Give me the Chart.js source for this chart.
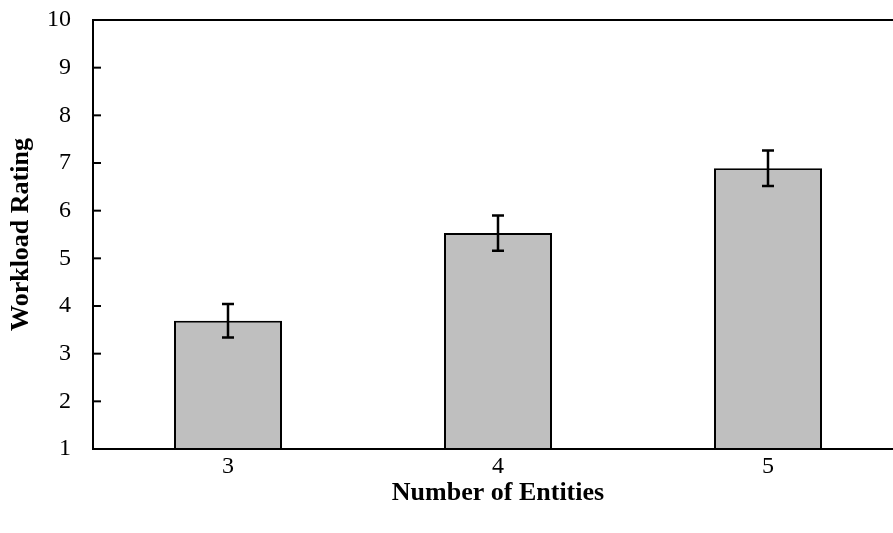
<!DOCTYPE html>
<html>
<head>
<meta charset="utf-8">
<script src="https://cdn.jsdelivr.net/npm/chart.js@4"></script>
<style>
  html, body { margin: 0; padding: 0; background: #fff; overflow: hidden; }
  #wrap { width: 910px; height: 533px; }
</style>
</head>
<body>
<div id="wrap"><canvas id="workloadChart" width="910" height="533"></canvas></div>
<script>
const entities = ['3', '4', '5'];
const workload = [3.69, 5.53, 6.89];
const workloadErr = [0.35, 0.37, 0.37];
const yTicks = [1, 2, 3, 4, 5, 6, 7, 8, 9, 10];

// frame, inward y ticks and error bars
const extras = {
  id: 'extras',
  afterDatasetsDraw(chart) {
    const ctx = chart.ctx;
    const area = chart.chartArea;
    const x = chart.scales.x;
    const y = chart.scales.y;
    ctx.save();
    ctx.strokeStyle = '#000';

    // error bars
    ctx.lineWidth = 2.5;
    workload.forEach(function (v, i) {
      const px = x.getPixelForValue(i);
      const top = y.getPixelForValue(v + workloadErr[i]);
      const bot = y.getPixelForValue(v - workloadErr[i]);
      ctx.beginPath();
      ctx.moveTo(px, top); ctx.lineTo(px, bot);
      ctx.moveTo(px - 6, top); ctx.lineTo(px + 6, top);
      ctx.moveTo(px - 6, bot); ctx.lineTo(px + 6, bot);
      ctx.stroke();
    });

    // frame
    ctx.lineWidth = 2;
    ctx.strokeRect(area.left, area.top, area.right - area.left, area.bottom - area.top);

    // tick marks pointing inward
    yTicks.forEach(function (t) {
      const py = y.getPixelForValue(t);
      ctx.beginPath();
      ctx.moveTo(area.left, py);
      ctx.lineTo(area.left + 8, py);
      ctx.stroke();
    });
    ctx.restore();
  }
};

new Chart(document.getElementById('workloadChart').getContext('2d'), {
  type: 'bar',
  data: {
    labels: entities,
    datasets: [{
      data: workload,
      backgroundColor: '#BFBFBF',
      borderColor: '#000',
      borderWidth: 2,
      categoryPercentage: 1,
      barPercentage: 0.4
    }]
  },
  options: {
    responsive: false,
    animation: false,
    layout: { padding: { top: 20, right: 7, left: 0, bottom: 0 } },
    scales: {
      x: {
        grid: { display: false, drawTicks: false },
        border: { display: false },
        ticks: {
          color: '#000',
          padding: 3,
          font: { family: 'Liberation Serif', size: 24 }
        },
        title: {
          display: true,
          text: 'Number of Entities',
          color: '#000',
          padding: { top: 0, bottom: 24 },
          font: { family: 'Liberation Serif', size: 26, weight: 'bold' }
        },
        afterFit(scale) { scale.height = 84; }
      },
      y: {
        min: 1,
        max: 10,
        grid: { display: false, drawTicks: false },
        border: { display: false },
        ticks: {
          stepSize: 1,
          color: '#000',
          padding: 22,
          font: { family: 'Liberation Serif', size: 24 }
        },
        title: {
          display: true,
          text: 'Workload Rating',
          color: '#000',
          padding: { top: 6, bottom: 0 },
          font: { family: 'Liberation Serif', size: 26, weight: 'bold' }
        },
        afterFit(scale) {
          scale.width = 93;
          scale.paddingTop = 0;
          scale.paddingBottom = 0;
        }
      }
    },
    plugins: {
      legend: { display: false },
      tooltip: { enabled: false }
    }
  },
  plugins: [extras]
});
</script>
</body>
</html>
